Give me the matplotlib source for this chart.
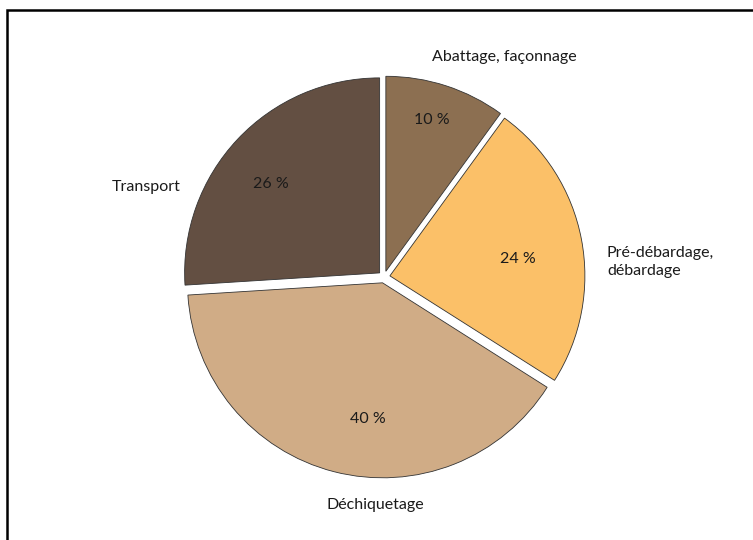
import matplotlib.pyplot as plt
from matplotlib.patches import Rectangle

# data
labels = ["Abattage, façonnage", "Pré-débardage,\ndébardage", "Déchiquetage", "Transport"]
shares = [10, 24, 40, 26]
colors = ["#8C6F51", "#FBC068", "#D0AC86", "#634F42"]

plt.rcParams['font.family'] = ['Lato', 'DejaVu Sans']

fig = plt.figure(figsize=(7.53, 5.40), dpi=100)
# outer frame (only left and top visible in the original)
fig.patches.append(Rectangle((7 / 753, -0.2), 1.2, 1.2 - 10 / 540,
                             transform=fig.transFigure, fill=False,
                             edgecolor="black", linewidth=1.8))

ax = fig.add_axes([134 / 753, 13 / 540, 500 / 753, 500 / 540])
wedges, texts, pcts = ax.pie(
    shares, labels=labels, colors=colors, startangle=90, counterclock=False,
    explode=[0.03] * 4, radius=0.975, autopct=lambda p: "%d %%" % round(p),
    wedgeprops=dict(edgecolor="#333333", linewidth=0.6),
    textprops=dict(fontsize=11.5, color="#1a1a1a"))
ax.set_xlim(-1.25, 1.25)
ax.set_ylim(-1.25, 1.25)
ax.set_aspect("equal")

# tweak label placement to follow the original layout
label_pos = [(0.24, 1.10, "left"), (1.115, 0.075, "left"),
             (-0.045, -1.14, "center"), (-1.015, 0.45, "right")]
for t, (x, y, ha) in zip(texts, label_pos):
    t.set_position((x, y))
    t.set_ha(ha)
    t.set_va("center")
    t.set_linespacing(1.45)
pct_pos = [(0.24, 0.785), (0.67, 0.09), (-0.08, -0.71), (-0.565, 0.465)]
for t, (x, y) in zip(pcts, pct_pos):
    t.set_position((x, y))
    t.set_va("center")

fig.savefig("out.png", dpi=100)
